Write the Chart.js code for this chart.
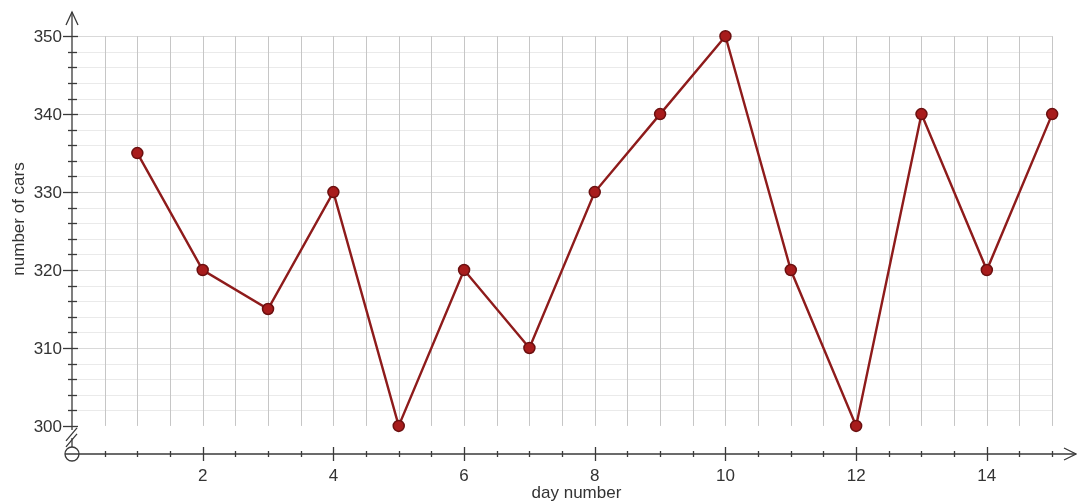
<!DOCTYPE html>
<html>
<head>
<meta charset="utf-8">
<script src="https://cdn.jsdelivr.net/npm/chart.js@4.4.1/dist/chart.umd.min.js"></script>
<style>
html,body{margin:0;padding:0;background:#fff;overflow:hidden;}
#c{display:block;}
</style>
</head>
<body>
<canvas id="c" width="1077" height="502" style="width:1077px;height:502px;"></canvas>
<script>
const days = [1,2,3,4,5,6,7,8,9,10,11,12,13,14,15];
const cars = [335,320,315,330,300,320,310,330,340,350,320,300,340,320,340];
const xTickValues = [2,4,6,8,10,12,14];
const yTickValues = [300,310,320,330,340,350];
const xTitle = 'day number';
const yTitle = 'number of cars';

const FONT = '"Liberation Sans", Arial, sans-serif';

const axesPlugin = {
  id: 'axesPlugin',
  beforeDatasetsDraw(chart) {
    const ctx = chart.ctx;
    const xs = chart.scales.x, ys = chart.scales.y;
    const X = v => xs.getPixelForValue(v), Y = v => ys.getPixelForValue(v);
    const yBot = Y(300), yTop = Y(350);
    const xL = X(0), xR = X(15);
    const ca = chart.chartArea;
    const axisY = ca.bottom, axisX = ca.left;
    ctx.save();
    ctx.lineWidth = 1;
    for (let v = 302; v <= 350; v += 2) {
      ctx.strokeStyle = (v % 10 === 0) ? '#d9d9d9' : '#eaeaea';
      ctx.beginPath(); ctx.moveTo(xL, Math.round(Y(v)) + 0.5); ctx.lineTo(xR, Math.round(Y(v)) + 0.5); ctx.stroke();
    }
    ctx.strokeStyle = '#c6c6c6';
    for (let v = 0.5; v <= 15.001; v += 0.5) {
      ctx.beginPath(); ctx.moveTo(Math.round(X(v)) + 0.5, yTop); ctx.lineTo(Math.round(X(v)) + 0.5, yBot); ctx.stroke();
    }
    ctx.strokeStyle = '#3a3a3a';
    ctx.lineWidth = 1.3;
    ctx.beginPath(); ctx.moveTo(axisX, ca.top); ctx.lineTo(axisX, yBot); ctx.stroke();
    ctx.beginPath(); ctx.moveTo(axisX, yBot); ctx.lineTo(axisX, yBot + 4); ctx.stroke();
    ctx.beginPath(); ctx.moveTo(axisX, axisY - 16); ctx.lineTo(axisX, axisY - 7); ctx.stroke();
    ctx.beginPath(); ctx.moveTo(axisX - 6, ca.top + 13); ctx.lineTo(axisX, ca.top); ctx.lineTo(axisX + 6, ca.top + 13); ctx.stroke();
    ctx.beginPath(); ctx.moveTo(axisX - 6, yBot + 15); ctx.lineTo(axisX + 5, yBot + 2); ctx.stroke();
    ctx.beginPath(); ctx.moveTo(axisX - 6, yBot + 21); ctx.lineTo(axisX + 5, yBot + 8); ctx.stroke();
    ctx.beginPath(); ctx.moveTo(axisX - 7, axisY); ctx.lineTo(ca.right - 1, axisY); ctx.stroke();
    ctx.beginPath(); ctx.moveTo(ca.right - 13, axisY - 6); ctx.lineTo(ca.right - 1, axisY); ctx.lineTo(ca.right - 13, axisY + 6); ctx.stroke();
    ctx.beginPath(); ctx.arc(axisX, axisY, 7, 0, Math.PI * 2); ctx.stroke();
    for (let v = 300; v <= 350; v += 2) {
      const py = Math.round(Y(v)) + 0.5;
      ctx.beginPath();
      if (v % 10 === 0) { ctx.moveTo(axisX - 9, py); ctx.lineTo(axisX + 6, py); }
      else { ctx.moveTo(axisX - 4, py); ctx.lineTo(axisX + 5, py); }
      ctx.stroke();
    }
    for (let v = 0.5; v <= 15.001; v += 0.5) {
      const px = Math.round(X(v)) + 0.5;
      ctx.beginPath();
      if (xTickValues.includes(v)) { ctx.moveTo(px, axisY - 7); ctx.lineTo(px, axisY + 7); }
      else { ctx.moveTo(px, axisY - 3); ctx.lineTo(px, axisY + 3); }
      ctx.stroke();
    }
    ctx.fillStyle = '#333';
    ctx.font = '17px ' + FONT;
    ctx.textAlign = 'right'; ctx.textBaseline = 'middle';
    yTickValues.forEach(v => ctx.fillText(String(v), axisX - 10, Y(v) + 1));
    ctx.textAlign = 'center'; ctx.textBaseline = 'middle';
    xTickValues.forEach(v => ctx.fillText(String(v), X(v), axisY + 22));
    ctx.fillText(xTitle, X(7.72), axisY + 39);
    ctx.save();
    ctx.translate(19, 219);
    ctx.rotate(-Math.PI / 2);
    ctx.fillText(yTitle, 0, 0);
    ctx.restore();
    ctx.restore();
  }
};

new Chart(document.getElementById('c'), {
  type: 'line',
  data: {
    datasets: [{
      data: days.map((d, i) => ({x: d, y: cars[i]})),
      borderColor: '#8e1b1b',
      borderWidth: 2.4,
      backgroundColor: '#a31a1a',
      pointBackgroundColor: '#a81c1c',
      pointBorderColor: '#6b1010',
      pointBorderWidth: 1.5,
      pointRadius: 5.5,
      tension: 0,
      clip: false
    }]
  },
  options: {
    responsive: false,
    maintainAspectRatio: false,
    animation: false,
    devicePixelRatio: 1,
    layout: {autoPadding: false, padding: {left: 72, right: 0, top: 12, bottom: 48}},
    plugins: {legend: {display: false}, tooltip: {enabled: false}},
    scales: {
      x: {type: 'linear', min: 0, max: 15.38, display: false},
      y: {type: 'linear', min: 296.4, max: 353.1, display: false}
    }
  },
  plugins: [axesPlugin]
});
</script>
</body>
</html>
